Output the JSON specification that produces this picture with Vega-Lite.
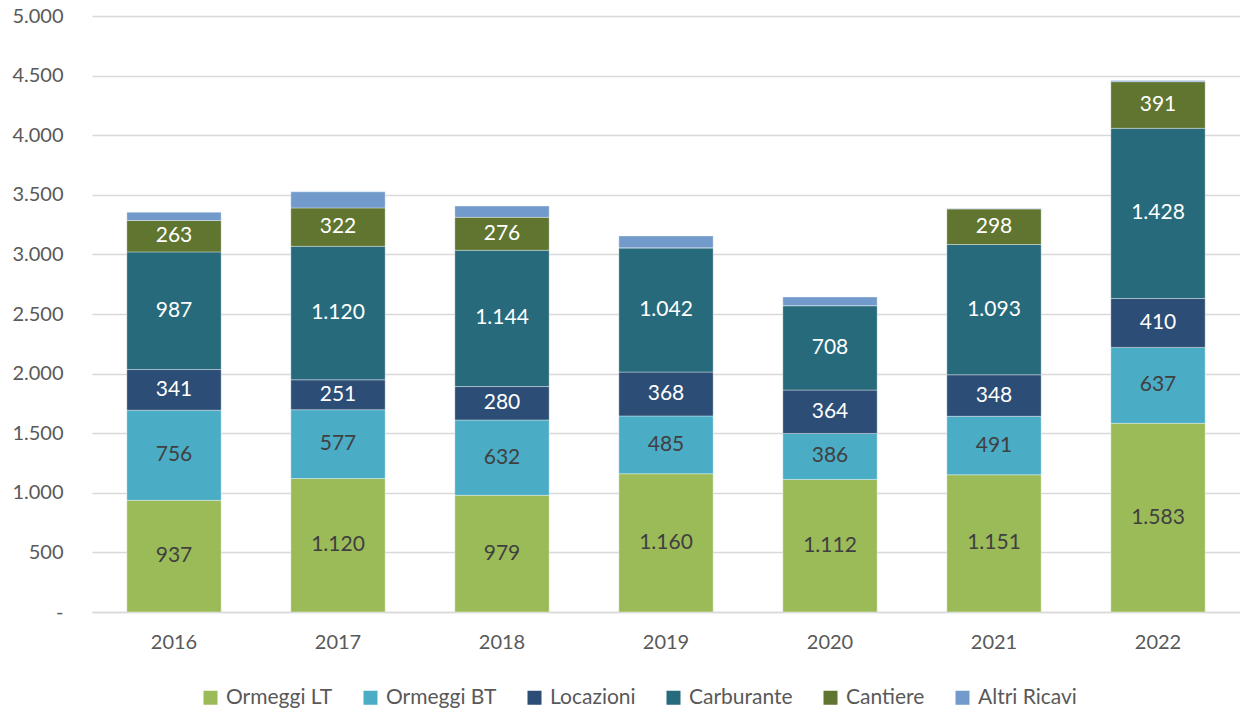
{
  "$schema": "https://vega.github.io/schema/vega-lite/v6.json",
  "width": 1148,
  "height": 596,
  "autosize": {"type": "none"},
  "padding": {"left": 92, "top": 16, "right": 0, "bottom": 97},
  "background": "white",
  "config": {
    "font": "Lato",
    "view": {"stroke": null},
    "axis": {"labelFont": "Lato", "labelColor": "#595959", "labelFontSize": 20, "titleFont": "Lato"},
    "legend": {"labelFont": "Lato"}
  },
  "data": {
    "values": [
      {"anno": "2016", "serie": "Ormeggi LT", "v": 937},
      {"anno": "2016", "serie": "Ormeggi BT", "v": 756},
      {"anno": "2016", "serie": "Locazioni", "v": 341},
      {"anno": "2016", "serie": "Carburante", "v": 987},
      {"anno": "2016", "serie": "Cantiere", "v": 263},
      {"anno": "2016", "serie": "Altri Ricavi", "v": 70},
      {"anno": "2017", "serie": "Ormeggi LT", "v": 1120},
      {"anno": "2017", "serie": "Ormeggi BT", "v": 577},
      {"anno": "2017", "serie": "Locazioni", "v": 251},
      {"anno": "2017", "serie": "Carburante", "v": 1120},
      {"anno": "2017", "serie": "Cantiere", "v": 322},
      {"anno": "2017", "serie": "Altri Ricavi", "v": 135},
      {"anno": "2018", "serie": "Ormeggi LT", "v": 979},
      {"anno": "2018", "serie": "Ormeggi BT", "v": 632},
      {"anno": "2018", "serie": "Locazioni", "v": 280},
      {"anno": "2018", "serie": "Carburante", "v": 1144},
      {"anno": "2018", "serie": "Cantiere", "v": 276},
      {"anno": "2018", "serie": "Altri Ricavi", "v": 95},
      {"anno": "2019", "serie": "Ormeggi LT", "v": 1160},
      {"anno": "2019", "serie": "Ormeggi BT", "v": 485},
      {"anno": "2019", "serie": "Locazioni", "v": 368},
      {"anno": "2019", "serie": "Carburante", "v": 1042},
      {"anno": "2019", "serie": "Cantiere", "v": 0},
      {"anno": "2019", "serie": "Altri Ricavi", "v": 100},
      {"anno": "2020", "serie": "Ormeggi LT", "v": 1112},
      {"anno": "2020", "serie": "Ormeggi BT", "v": 386},
      {"anno": "2020", "serie": "Locazioni", "v": 364},
      {"anno": "2020", "serie": "Carburante", "v": 708},
      {"anno": "2020", "serie": "Cantiere", "v": 0},
      {"anno": "2020", "serie": "Altri Ricavi", "v": 73},
      {"anno": "2021", "serie": "Ormeggi LT", "v": 1151},
      {"anno": "2021", "serie": "Ormeggi BT", "v": 491},
      {"anno": "2021", "serie": "Locazioni", "v": 348},
      {"anno": "2021", "serie": "Carburante", "v": 1093},
      {"anno": "2021", "serie": "Cantiere", "v": 298},
      {"anno": "2021", "serie": "Altri Ricavi", "v": 4},
      {"anno": "2022", "serie": "Ormeggi LT", "v": 1583},
      {"anno": "2022", "serie": "Ormeggi BT", "v": 637},
      {"anno": "2022", "serie": "Locazioni", "v": 410},
      {"anno": "2022", "serie": "Carburante", "v": 1428},
      {"anno": "2022", "serie": "Cantiere", "v": 391},
      {"anno": "2022", "serie": "Altri Ricavi", "v": 9}
    ]
  },
  "transform": [
    {"calculate": "indexof(['Ormeggi LT','Ormeggi BT','Locazioni','Carburante','Cantiere','Altri Ricavi'], datum.serie)", "as": "ord"},
    {"stack": "v", "groupby": ["anno"], "sort": [{"field": "ord", "order": "ascending"}], "as": ["v0", "v1"]},
    {"calculate": "(datum.v0 + datum.v1) / 2", "as": "mid"},
    {"calculate": "replace(format(datum.v, ','), ',', '.')", "as": "lab"}
  ],
  "encoding": {
    "x": {
      "field": "anno",
      "type": "nominal",
      "title": null,
      "scale": {"paddingInner": 0.425, "paddingOuter": 0.2125},
      "axis": {"labelAngle": 0, "ticks": false, "domainColor": "#d9d9d9", "domainWidth": 1.3, "labelPadding": 20, "labelFontSize": 20}
    }
  },
  "layer": [
    {
      "mark": {"type": "bar", "stroke": "white", "strokeWidth": 0.6, "strokeOpacity": 0.6},
      "encoding": {
        "y": {
          "field": "v0",
          "type": "quantitative",
          "title": null,
          "scale": {"domain": [0, 5000], "nice": false},
          "axis": {
            "values": [0, 500, 1000, 1500, 2000, 2500, 3000, 3500, 4000, 4500, 5000],
            "labelExpr": "datum.value == 0 ? '-' : replace(format(datum.value, ','), ',', '.')",
            "ticks": false,
            "domain": false,
            "gridColor": "#d9d9d9",
            "gridWidth": 1.3,
            "labelPadding": 29,
            "labelFontSize": 20
          }
        },
        "y2": {"field": "v1"},
        "color": {
          "field": "serie",
          "type": "nominal",
          "sort": ["Ormeggi LT", "Ormeggi BT", "Locazioni", "Carburante", "Cantiere", "Altri Ricavi"],
          "scale": {
            "domain": ["Ormeggi LT", "Ormeggi BT", "Locazioni", "Carburante", "Cantiere", "Altri Ricavi"],
            "range": ["#9BBB59", "#4BACC6", "#2C4D75", "#276A7C", "#5F7530", "#729ACA"]
          },
          "legend": {
            "title": null,
            "orient": "none",
            "legendX": 108,
            "legendY": 671,
            "direction": "horizontal",
            "symbolType": "square",
            "symbolSize": 196,
            "symbolStrokeWidth": 0,
            "labelFontSize": 21,
            "labelColor": "#595959",
            "columnPadding": 27,
            "labelOffset": 5
          }
        }
      }
    },
    {
      "transform": [{"filter": "datum.serie != 'Altri Ricavi' && datum.v > 0"}],
      "mark": {"type": "text", "fontSize": 21, "baseline": "middle", "align": "center"},
      "encoding": {
        "y": {"field": "mid", "type": "quantitative"},
        "text": {"field": "lab"},
        "color": {
          "condition": {"test": "datum.ord < 2", "value": "#404040"},
          "value": "white"
        }
      }
    }
  ]
}
